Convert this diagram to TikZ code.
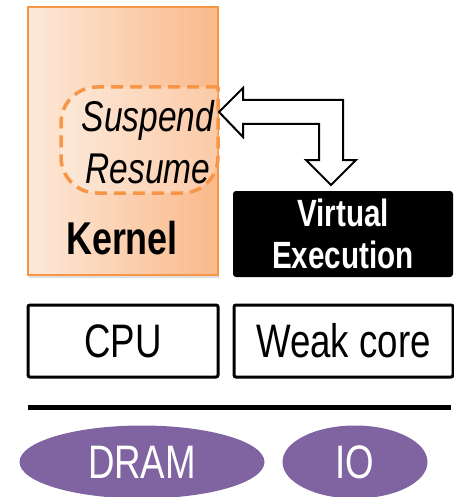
\documentclass[tikz,border=0pt]{standalone}
\usepackage{fontspec}
\setmainfont{Liberation Sans}[FakeStretch=0.78]
\usetikzlibrary{positioning,shapes.geometric,shadows}
\definecolor{kernorange}{HTML}{F79646}
\definecolor{kernlight}{HTML}{FDE9D9}
\definecolor{kerndark}{HTML}{FAB98A}
\definecolor{mempurple}{HTML}{8064A2}
\tikzset{
  hwbox/.style={draw, line width=3pt, rounded corners=2pt, minimum width=190pt, minimum height=72pt, inner sep=0pt},
  membub/.style={ellipse, fill=mempurple, text=white, inner sep=0pt},
  big/.style={font=\fontsize{47}{50}\selectfont},
  softshadow/.style={drop shadow={shadow xshift=1pt, shadow yshift=-2.5pt, opacity=0.25}}
}
\begin{document}
\begin{tikzpicture}[x=1pt,y=-1pt]
\useasboundingbox (0,0) rectangle (454,497);
% kernel
\node[draw=kernorange, line width=1.5pt, left color=kernlight, right color=kerndark, softshadow, minimum width=190pt, minimum height=268pt, inner sep=0pt] (kernel) at (123,141) {};
\node[font=\fontsize{46}{50}\selectfont\bfseries] (kernlbl) at (122,238) {Kernel};
% suspend / resume
\draw[kernorange, line width=3.5pt, dash pattern=on 12pt off 7pt, rounded corners=36pt, fill=white, fill opacity=0.25]
  (218,87) -- (61,87) -- (61,193) -- (218,193) [sharp corners] -- cycle;
\node[font=\fontsize{43}{52}\selectfont\itshape, align=center] (susp) at (148,142) {Suspend\\Resume};
% virtual execution
\node[fill=black, rounded corners=3pt, minimum width=220pt, minimum height=86pt, inner sep=0pt, text=white, align=center, font=\fontsize{38}{42}\selectfont\bfseries] (virt) at (343,234) {Virtual\\Execution};
% hollow elbow arrow
\coordinate (tipL) at (219,112);
\coordinate (tipD) at (331,185);
\draw[line width=2pt, fill=white, line join=miter]
  (tipL) -- ++(24,-24) -- ++(0,12) -- (343,100) -- (343,160) -- ++(13,0) -- (tipD)
  -- (306,160) -- ++(13,0) -- (319,124) -- (243,124) -- ++(0,13) -- cycle;
% hardware
\node[hwbox, big] (cpu) at (123,341) {CPU};
\node[hwbox, big, minimum width=219pt] (weak) at (343.5,341) {Weak core};
\coordinate (busL) at (28,407);
\coordinate (busR) at (451,407);
\draw[line width=5pt] (busL) -- (busR);
\node[membub, big, minimum width=245pt, minimum height=73pt] (dram) at (142,462) {DRAM};
\node[membub, big, minimum width=145pt, minimum height=73pt] (io) at (355,462) {IO};
\end{tikzpicture}
\end{document}
